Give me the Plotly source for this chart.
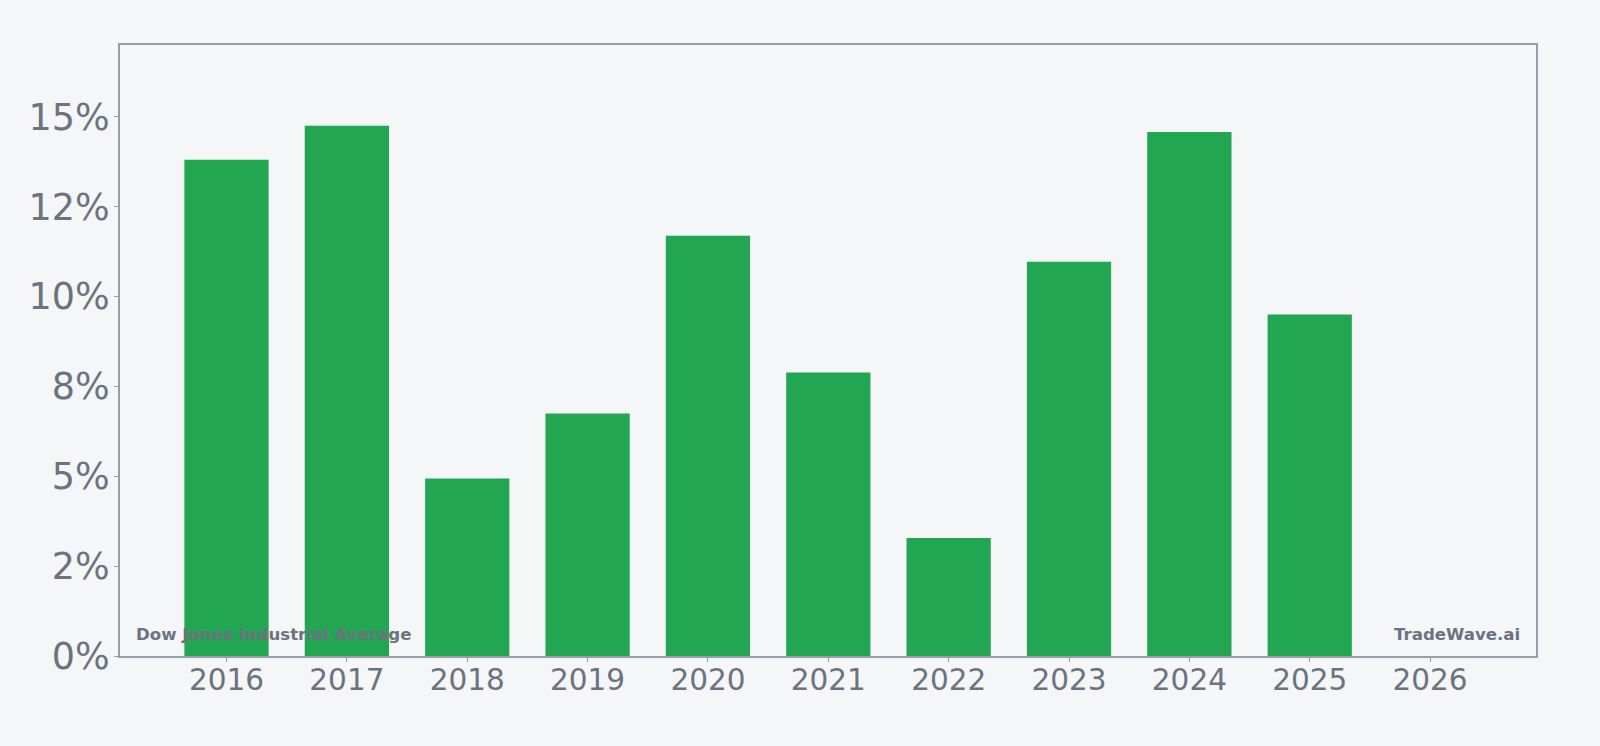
import plotly.graph_objects as go

years = [2016, 2017, 2018, 2019, 2020, 2021, 2022, 2023, 2024, 2025]
returns = [0.1381, 0.1475, 0.0494, 0.0675, 0.1169, 0.0789, 0.0328, 0.1097, 0.1458, 0.0950]
y_tickvals = [0, 0.025, 0.05, 0.075, 0.10, 0.125, 0.15]
y_ticktext = ["0%", "2%", "5%", "8%", "10%", "12%", "15%"]
x_tickvals = list(range(2016, 2027))
x_ticktext = [str(v) for v in x_tickvals]

bg = "#f4f6f8"
gray = "#6b7280"
frame = "#9a9ca8"

fig = go.Figure(go.Bar(x=years, y=returns, width=0.7, marker=dict(color="#22a652", line=dict(width=0))))

fig.update_layout(
    width=1600, height=746,
    paper_bgcolor=bg, plot_bgcolor=bg,
    margin=dict(l=120, r=64, t=45, b=90),
    showlegend=False,
    font=dict(family="DejaVu Sans", color=gray),
)
fig.update_xaxes(
    range=[2015.115, 2026.88], tickvals=x_tickvals, ticktext=x_ticktext,
    showgrid=False, zeroline=False, showline=True, linecolor=frame, linewidth=2, mirror=True,
    ticks="outside", ticklen=4, tickcolor=frame, tickfont=dict(size=29.5, color=gray),
    ticklabelstandoff=-7,
)
fig.update_yaxes(
    range=[0, 0.17], tickvals=y_tickvals, ticktext=y_ticktext,
    showgrid=False, zeroline=False, showline=True, linecolor=frame, linewidth=2, mirror=True,
    ticks="outside", ticklen=4, tickcolor=frame, tickfont=dict(size=36.5, color=gray),
    ticklabelstandoff=-3,
)
fig.add_annotation(x=0.01, y=0.017, xref="paper", yref="paper", xanchor="left", yanchor="bottom",
                   text="<b>Dow Jones Industrial Average</b>", showarrow=False,
                   font=dict(size=16.6, color=gray, family="DejaVu Sans"))
fig.add_annotation(x=0.99, y=0.017, xref="paper", yref="paper", xanchor="right", yanchor="bottom",
                   text="<b>TradeWave.ai</b>", showarrow=False,
                   font=dict(size=16.6, color=gray, family="DejaVu Sans"))

fig.write_html("out.html")
